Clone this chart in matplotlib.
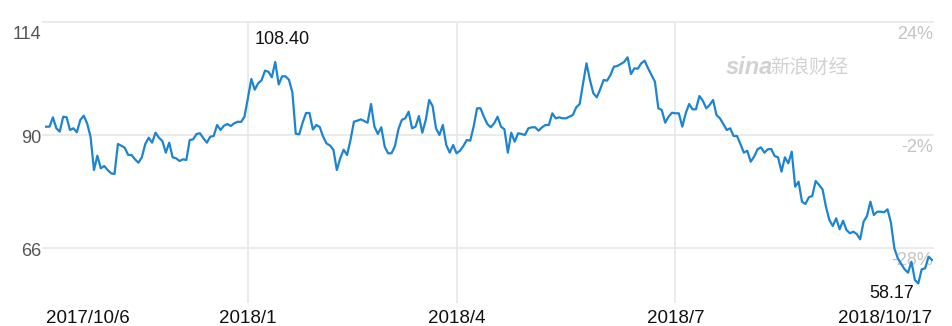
import matplotlib
matplotlib.use("Agg")
import matplotlib.pyplot as plt
import matplotlib.transforms as mtransforms
import numpy as np
import pandas as pd

plt.rcParams['font.family'] = ['Liberation Sans', 'Noto Sans CJK SC', 'DejaVu Sans']

# closing prices, one per trading day 2017/10/6 .. 2018/10/17
prices = [
    91.70, 91.70, 93.69, 91.36, 90.64, 93.82, 93.69, 91.00, 91.36, 90.51,
    93.12, 94.03, 92.42, 89.57, 82.50, 85.54, 82.86, 83.35, 82.50, 81.80,
    81.65, 88.02, 87.66, 87.24, 85.69, 85.69, 84.77, 84.05, 85.20, 88.02,
    89.36, 88.30, 90.42, 89.36, 88.66, 86.18, 88.30, 85.20, 84.99, 84.41,
    84.77, 84.63, 88.87, 89.02, 90.15, 90.30, 89.23, 88.30, 89.57, 89.72,
    92.06, 91.00, 91.91, 92.27, 91.85, 92.42, 92.76, 92.70, 93.82, 97.73,
    101.83, 99.56, 100.92, 101.55, 103.59, 103.38, 102.19, 105.44, 100.66, 102.40,
    102.40, 101.68, 99.03, 90.19, 90.08, 92.55, 94.61, 94.61, 91.10, 92.06,
    91.63, 89.57, 88.13, 87.71, 86.81, 82.50, 84.99, 86.81, 85.69, 88.87,
    92.76, 92.97, 93.27, 92.91, 92.55, 96.52, 91.70, 90.15, 91.57, 87.45,
    86.05, 86.05, 87.60, 91.15, 93.12, 93.48, 94.88, 91.36, 91.70, 93.97,
    90.42, 93.12, 97.37, 96.09, 91.36, 89.94, 92.06, 87.81, 86.18, 87.81,
    86.05, 86.60, 87.60, 88.87, 88.72, 91.70, 95.61, 95.61, 93.82, 92.27,
    91.57, 92.42, 93.82, 91.70, 91.15, 86.18, 90.42, 88.51, 90.30, 90.15,
    89.94, 91.36, 91.57, 91.57, 90.85, 91.57, 92.06, 92.06, 94.54, 93.48,
    93.69, 93.48, 93.48, 93.82, 94.18, 95.82, 96.52, 100.92, 105.16, 101.62,
    98.79, 97.94, 99.64, 101.62, 101.47, 102.68, 104.44, 104.59, 105.02, 105.44,
    106.44, 102.89, 104.10, 104.02, 105.16, 105.72, 104.10, 102.68, 101.26, 95.61,
    95.25, 92.55, 93.82, 94.67, 94.54, 94.54, 91.70, 94.54, 96.52, 95.39,
    95.39, 98.22, 97.22, 95.61, 96.31, 97.37, 94.18, 93.48, 92.27, 91.00,
    91.36, 89.72, 89.72, 88.02, 86.18, 86.60, 84.26, 85.33, 86.90, 87.32,
    86.18, 86.90, 86.96, 85.47, 85.20, 82.14, 85.20, 83.92, 86.39, 78.95,
    80.02, 75.77, 75.28, 76.70, 76.98, 80.17, 79.32, 78.40, 74.71, 71.88,
    70.61, 72.24, 69.91, 71.73, 69.76, 69.06, 69.40, 68.91, 67.78, 71.52,
    72.73, 75.77, 72.94, 73.64, 73.64, 73.52, 74.15, 71.31, 65.87, 63.75,
    62.54, 61.41, 60.69, 63.02, 59.14, 58.40, 61.41, 61.62, 64.09, 63.39,
]
start_date = "2017-10-06"
end_date = "2018-10-17"
market_holidays = ["2017-11-23", "2017-12-25", "2018-01-01", "2018-01-15", "2018-02-19",
                   "2018-03-30", "2018-05-28", "2018-07-04", "2018-09-03"]

y_ticks = [66, 90, 114]
pct_labels = ["-28%", "-2%", "24%"]
x_tick_dates = ["2017-10-06", "2018-01-01", "2018-04-01", "2018-07-01", "2018-10-17"]
x_tick_labels = ["2017/10/6", "2018/1", "2018/4", "2018/7", "2018/10/17"]
high_label = 108.40
low_label = 58.17

# trading-day axis: points are evenly spaced by session
dates = pd.bdate_range(start_date, end_date, freq="C", holidays=market_holidays)
prices = np.array(prices)
x = np.arange(len(prices))
tick_pos = [int(dates.searchsorted(pd.Timestamp(d))) for d in x_tick_dates]
tick_pos[-1] = len(prices) - 1

fig = plt.figure(figsize=(9.53, 3.26), dpi=100)
ax = fig.add_axes([43 / 953, 23 / 326, 890 / 953, 281.3 / 326])

grid_c = "#e8e8e8"
for v in y_ticks:
    ax.axhline(v, color=grid_c, lw=1.2, zorder=0, clip_on=False)
for p in tick_pos[1:-1]:
    ax.axvline(p, color=grid_c, lw=1.2, zorder=0)

ax.plot(x, prices, color="#1c84d0", lw=1.6, zorder=3)

ax.set_ylim(54.25, 114)
ax.set_xlim(-0.9, len(prices) - 1 + 0.3)

for s in ax.spines.values():
    s.set_visible(False)

ax.set_yticks(y_ticks)
ax.set_yticklabels([str(v) for v in y_ticks])
ax.tick_params(axis="y", length=0, pad=1, labelsize=13, labelcolor="#555555")
for lab in ax.get_yticklabels():
    lab.set_transform(lab.get_transform() + mtransforms.ScaledTranslation(0, -1.5 / 72, fig.dpi_scale_trans))
top_lab = ax.get_yticklabels()[-1]
top_lab.set_verticalalignment("top")
top_lab.set_transform(top_lab.get_transform() + mtransforms.ScaledTranslation(0, -1.5 / 72, fig.dpi_scale_trans))

ax.set_xticks(tick_pos)
ax.set_xticklabels(x_tick_labels)
ax.tick_params(axis="x", length=0, pad=5, labelsize=13.5, labelcolor="#111111")
xl = ax.get_xticklabels()
xl[0].set_horizontalalignment("left")
xl[-1].set_horizontalalignment("right")

# right-hand percentage labels, drawn inside the plot
trans = mtransforms.blended_transform_factory(ax.transAxes, ax.transData)
for v, lab in zip(y_ticks, pct_labels):
    ax.text(1.0, v, lab, transform=trans + mtransforms.ScaledTranslation(0, -3 / 72, fig.dpi_scale_trans),
            ha="right", va="top", fontsize=13, color="#c4c4c4", zorder=2)

# high / low annotations
hi = int(np.argmax(prices[:120]))
lo = int(np.argmin(prices))
ax.annotate(f"{high_label:.2f}", xy=(x[hi], high_label), xytext=(5, 0), textcoords="offset points",
            ha="center", va="bottom", fontsize=13, color="#111111", annotation_clip=False)
ax.annotate(f"{low_label:.2f}", xy=(x[lo], low_label), xytext=(-3, 0), textcoords="offset points",
            ha="right", va="top", fontsize=13, color="#111111", annotation_clip=False)

# watermark
fig.text(726 / 953, 1 - 68 / 326, "sina", fontsize=17, fontweight="bold", style="italic",
         color="#d2d2d2", va="center", ha="left")
fig.text(770 / 953, 1 - 67 / 326, "新浪财经", fontsize=14, color="#d2d2d2", va="center", ha="left",
         family=["Noto Sans CJK SC", "DejaVu Sans"])

fig.savefig("out.png", dpi=100)
